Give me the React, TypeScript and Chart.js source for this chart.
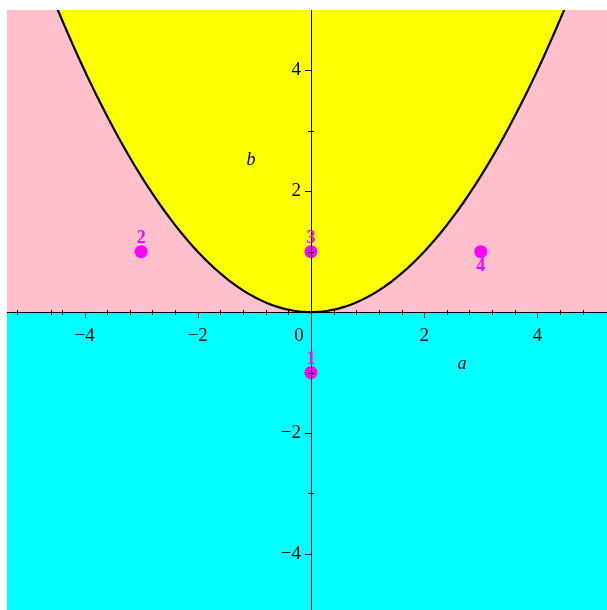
import React, { useEffect, useRef } from "react";
import { Chart, registerables } from "chart.js";

Chart.register(...registerables);

// Plot window (a horizontal, b vertical)
const aMin = -5.37;
const aMax = 5.23;
const bMin = -4.93;
const bMax = 5;

// Boundary curve b = a^2 / 4, sampled along a
const boundaryA: number[] = Array.from({ length: 97 }, (_, i) => -4.8 + i * 0.1);
const boundaryB: number[] = boundaryA.map((a) => (a * a) / 4);

// Marked test points and their labels
const pointA = [0, -3, 0, 3];
const pointB = [-1, 1, 1, 1];
const pointLabels = ["1", "2", "3", "4"];
const pointLabelSide = ["above", "above", "above", "below"];

// Axis ticks
const xTickValues = [-4, -2, 0, 2, 4];
const xTickLabels = ["\u22124", "\u22122", "0", "2", "4"];
const yTickValues = [-4, -2, 2, 4];
const yTickLabels = ["\u22124", "\u22122", "2", "4"];
const xMinorTicks = [-5.2, -4.6, -4.4, -3.6, -3.2, -2.8, -2.4, -1.6, -1.2, -0.8, -0.4, 0.4, 0.8, 1.2, 1.6, 2.4, 2.8, 3.2, 3.6, 4.4, 4.8];
const yMinorTicks = [-3, -1, 1, 3];

const CYAN = "#00FFFF";
const PINK = "#FFC0CB";
const YELLOW = "#FFFF00";
const MAGENTA = "#FF00FF";

const axesPlugin = {
  id: "centerAxes",
  afterDatasetsDraw(chart: any) {
    const { ctx, scales } = chart;
    const xs = scales.x;
    const ys = scales.y;
    const x0 = xs.getPixelForValue(0);
    const y0 = ys.getPixelForValue(0);
    const area = chart.chartArea;

    ctx.save();
    ctx.strokeStyle = "#000";
    ctx.lineWidth = 1;
    // axis lines
    ctx.beginPath();
    ctx.moveTo(area.left, Math.round(y0) + 0.5);
    ctx.lineTo(area.right, Math.round(y0) + 0.5);
    ctx.moveTo(Math.round(x0) + 0.5, area.top);
    ctx.lineTo(Math.round(x0) + 0.5, area.bottom);
    ctx.stroke();

    // ticks on the horizontal axis
    ctx.beginPath();
    xTickValues.forEach((v) => {
      if (v === 0) return;
      const px = Math.round(xs.getPixelForValue(v)) + 0.5;
      ctx.moveTo(px, y0);
      ctx.lineTo(px, y0 + 6);
    });
    xMinorTicks.forEach((v) => {
      const px = Math.round(xs.getPixelForValue(v)) + 0.5;
      ctx.moveTo(px, y0 - 2);
      ctx.lineTo(px, y0 + 3);
    });
    // ticks on the vertical axis
    yTickValues.forEach((v) => {
      const py = Math.round(ys.getPixelForValue(v)) + 0.5;
      ctx.moveTo(x0 - 6, py);
      ctx.lineTo(x0, py);
    });
    yMinorTicks.forEach((v) => {
      const py = Math.round(ys.getPixelForValue(v)) + 0.5;
      ctx.moveTo(x0 - 3, py);
      ctx.lineTo(x0 + 3, py);
    });
    ctx.stroke();

    // tick labels
    ctx.fillStyle = "#000";
    ctx.font = "19px 'Liberation Serif', serif";
    ctx.textBaseline = "middle";
    ctx.textAlign = "center";
    xTickValues.forEach((v, i) => {
      const px = xs.getPixelForValue(v) + (v === 0 ? -12 : 0);
      ctx.fillText(xTickLabels[i], px, y0 + 24);
    });
    ctx.textAlign = "right";
    yTickValues.forEach((v, i) => {
      ctx.fillText(yTickLabels[i], x0 - 10, ys.getPixelForValue(v));
    });

    // axis names
    ctx.font = "italic 18px 'Liberation Serif', serif";
    ctx.textAlign = "center";
    ctx.fillText("a", xs.getPixelForValue(2.67), ys.getPixelForValue(-0.86));
    ctx.fillText("b", xs.getPixelForValue(-1.06), ys.getPixelForValue(2.52));

    // point labels
    ctx.fillStyle = MAGENTA;
    ctx.font = "bold 18px 'Liberation Serif', serif";
    pointA.forEach((a, i) => {
      const px = xs.getPixelForValue(a);
      const py = ys.getPixelForValue(pointB[i]);
      const dy = pointLabelSide[i] === "above" ? -13 : 15;
      ctx.fillText(pointLabels[i], px, py + dy);
    });
    ctx.restore();
  },
};

export default function App() {
  const canvasRef = useRef<HTMLCanvasElement | null>(null);

  useEffect(() => {
    const canvas = canvasRef.current;
    if (!canvas) return;
    const chart = new Chart(canvas, {
      type: "line",
      data: {
        datasets: [
          {
            label: "points",
            data: pointA.map((a, i) => ({ x: a, y: pointB[i] })),
            showLine: false,
            pointRadius: 6.5,
            pointBackgroundColor: MAGENTA,
            pointBorderColor: MAGENTA,
            pointBorderWidth: 0,
            order: 0,
          },
          {
            label: "boundary",
            data: boundaryA.map((a, i) => ({ x: a, y: boundaryB[i] })),
            borderColor: "#000",
            borderWidth: 2.2,
            backgroundColor: YELLOW,
            fill: "end",
            pointRadius: 0,
            tension: 0,
            order: 1,
          },
          {
            label: "upper",
            data: [
              { x: aMin, y: bMax },
              { x: aMax, y: bMax },
            ],
            borderWidth: 0,
            backgroundColor: PINK,
            fill: "origin",
            pointRadius: 0,
            order: 2,
          },
          {
            label: "lower",
            data: [
              { x: aMin, y: 0 },
              { x: aMax, y: 0 },
            ],
            borderWidth: 0,
            backgroundColor: CYAN,
            fill: "start",
            pointRadius: 0,
            order: 3,
          },
        ],
      },
      options: {
        animation: false,
        responsive: false,
        devicePixelRatio: 1,
        layout: { padding: 0, autoPadding: false },
        plugins: {
          legend: { display: false },
          tooltip: { enabled: false },
          filler: { propagate: false },
        },
        scales: {
          x: { type: "linear", min: aMin, max: aMax, display: false },
          y: { type: "linear", min: bMin, max: bMax, display: false },
        },
      },
      plugins: [axesPlugin],
    });
    return () => chart.destroy();
  }, []);

  return (
    <div style={{ position: "fixed", left: 7, top: 10, width: 600, height: 600 }}>
      <canvas ref={canvasRef} width={600} height={600} style={{ display: "block" }} />
    </div>
  );
}
